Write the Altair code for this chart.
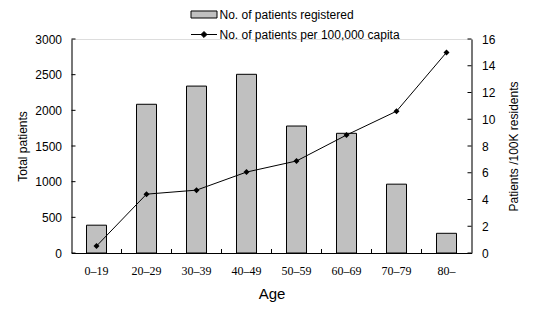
import altair as alt
import pandas as pd

ages = ["0–19", "20–29", "30–39", "40–49", "50–59", "60–69", "70–79", "80–"]
registered = [390, 2085, 2340, 2505, 1780, 1678, 965, 276]
per_capita = [0.52, 4.4, 4.7, 6.05, 6.88, 8.82, 10.6, 15.0]
left_ticks = [0, 500, 1000, 1500, 2000, 2500, 3000]
right_ticks = [0, 2, 4, 6, 8, 10, 12, 14, 16]
series_bar = "No. of patients registered"
series_line = "No. of patients per 100,000 capita"

W, H = 400, 214
SANS = "Liberation Sans"
SERIF = "Liberation Serif"

df = pd.DataFrame({"age": ages, "registered": registered, "per_capita": per_capita,
                   "s1": series_bar, "s2": series_line})
lt_df = pd.DataFrame({"v": left_ticks})
rt_df = pd.DataFrame({"v": right_ticks})
xt_df = pd.DataFrame({"age": ages[1:]})

x_scale = alt.Scale(domain=ages, paddingInner=0, paddingOuter=0)
x_axis = alt.Axis(title="Age", labelAngle=0, ticks=False, tickSize=0, domainColor="black",
                  labelFont=SERIF, labelFontSize=12, labelColor="black", labelPadding=12,
                  titleFont=SANS, titleFontSize=15, titleFontWeight="normal", titleColor="black",
                  titlePadding=10)
left_axis = alt.Axis(title="Total patients", values=left_ticks, format="d", ticks=False,
                     tickSize=0, domainColor="black", labelFont=SANS, labelFontSize=12,
                     labelColor="black", labelPadding=10, titleFont=SANS, titleFontSize=12,
                     titleFontWeight="normal", titleColor="black", titlePadding=5, grid=False)
right_axis = alt.Axis(title="Patients /100K residents", orient="right", values=right_ticks,
                      format="d", ticks=False, tickSize=0, domainColor="black", labelFont=SANS,
                      labelFontSize=12, labelColor="black", labelPadding=10, titleFont=SANS,
                      titleFontSize=12, titleFontWeight="normal", titleColor="black",
                      titleAngle=270, titleBaseline="bottom", titlePadding=26, grid=False)
y_left_scale = alt.Scale(domain=[0, 3000], nice=False)
y_right_scale = alt.Scale(domain=[0, 16], nice=False)

bars = alt.Chart(df).mark_bar(size=20, stroke="black", strokeWidth=1).encode(
    x=alt.X("age:N", scale=x_scale, axis=x_axis, sort=ages),
    y=alt.Y("registered:Q", scale=y_left_scale, axis=left_axis),
    fill=alt.Fill("s1:N", scale=alt.Scale(range=["#c0c0c0"]),
                  legend=alt.Legend(title=None, orient="none", legendX=119, legendY=-38,
                                    symbolType="M-1,-0.27L1,-0.27L1,0.27L-1,0.27Z",
                                    symbolSize=676, symbolStrokeColor="black",
                                    symbolStrokeWidth=1, labelFont=SANS, labelFontSize=12,
                                    labelColor="black", labelOffset=2, labelLimit=400,
                                    padding=0)),
)
lticks = alt.Chart(lt_df).mark_rule(color="black", strokeWidth=1).encode(
    y=alt.Y("v:Q", scale=y_left_scale, axis=left_axis),
    x=alt.value(0), x2=alt.value(4),
)
xticks = alt.Chart(xt_df).mark_rule(color="black", strokeWidth=1).encode(
    x=alt.X("age:N", scale=x_scale, axis=x_axis, sort=ages, bandPosition=0),
    y=alt.value(H - 4), y2=alt.value(H),
)
left = alt.layer(bars, lticks, xticks)

line = alt.Chart(df).mark_line(color="black", strokeWidth=1).encode(
    x=alt.X("age:N", scale=x_scale, axis=x_axis, sort=ages),
    y=alt.Y("per_capita:Q", scale=y_right_scale, axis=right_axis),
)
points = alt.Chart(df).mark_point(shape="diamond", filled=True, size=36, color="black",
                                  opacity=1).encode(
    x=alt.X("age:N", scale=x_scale, axis=x_axis, sort=ages),
    y=alt.Y("per_capita:Q", scale=y_right_scale, axis=right_axis),
    fill=alt.Fill("s2:N", scale=alt.Scale(range=["black"]),
                  legend=alt.Legend(title=None, orient="none", legendX=119, legendY=-18,
                                    symbolType="M-1,0L1,0M-0.23,0L0,-0.23L0.23,0L0,0.23Z",
                                    symbolSize=676, symbolStrokeColor="black",
                                    symbolFillColor="black", symbolStrokeWidth=1,
                                    symbolOpacity=1, labelFont=SANS, labelFontSize=12,
                                    labelColor="black", labelOffset=2, labelLimit=400,
                                    padding=0)),
)
rticks = alt.Chart(rt_df).mark_rule(color="black", strokeWidth=1).encode(
    y=alt.Y("v:Q", scale=y_right_scale, axis=right_axis),
    x=alt.value(W - 4), x2=alt.value(W),
)
right = alt.layer(line, points, rticks)

chart = alt.layer(left, right).resolve_scale(
    y="independent", fill="independent"
).properties(
    width=W, height=H,
    autosize=alt.AutoSizeParams(type="none"),
    padding={"left": 63.5, "top": 31, "right": 66.5, "bottom": 50},
).configure_view(stroke=None).configure(background="white")

chart.save("out.html", embed_options={"renderer": "svg", "actions": False})
